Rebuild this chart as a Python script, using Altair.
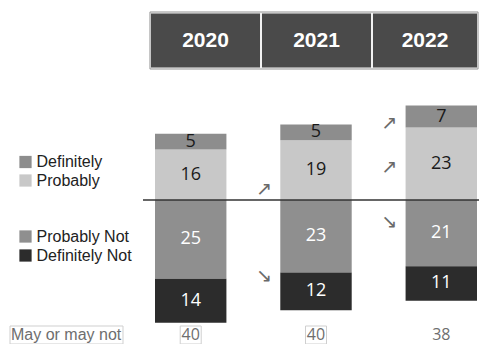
import altair as alt
import pandas as pd

# ---- data ----
years = ["2020", "2021", "2022"]
definitely = [5, 5, 7]
probably = [16, 19, 23]
probably_not = [25, 23, 21]
definitely_not = [14, 12, 11]
may_or_may_not = [40, 40, 38]

legend_labels = ["Definitely", "Probably", "Probably Not", "Definitely Not"]
bottom_label = "May or may not"

# trend arrows: (year, segment, glyph)
arrow_years = ["2021", "2021", "2022", "2022", "2022"]
arrow_segments = ["Probably", "Definitely Not", "Definitely", "Probably", "Probably Not"]
arrow_glyphs = ["↗", "↘", "↗", "↗", "↘"]

# ---- styling / layout ----
colors = {
    "Definitely": "#8d8d8d",
    "Probably": "#c8c8c8",
    "Probably Not": "#8f8f8f",
    "Definitely Not": "#2c2c2c",
}
text_colors = {
    "Definitely": "#1a1a1a",
    "Probably": "#1a1a1a",
    "Probably Not": "#ffffff",
    "Definitely Not": "#ffffff",
}
# where, within its segment, each arrow sits (0 = baseline side, 1 = far edge)
arrow_frac = [0.18, 0.1, 0.2, 0.46, 0.33]

W, H = 471, 336
PX_PER_UNIT = 3.15
ZERO_PX = 192
y_dom = [-(H - ZERO_PX) / PX_PER_UNIT, ZERO_PX / PX_PER_UNIT]

# ---- build stacked segments ----
rows = []
for i, yr in enumerate(years):
    rows.append(dict(year=yr, cat="Probably", v=probably[i], y0=0, y1=probably[i]))
    rows.append(dict(year=yr, cat="Definitely", v=definitely[i], y0=probably[i],
                     y1=probably[i] + definitely[i]))
    rows.append(dict(year=yr, cat="Probably Not", v=probably_not[i], y0=0, y1=-probably_not[i]))
    rows.append(dict(year=yr, cat="Definitely Not", v=definitely_not[i], y0=-probably_not[i],
                     y1=-probably_not[i] - definitely_not[i]))
seg = pd.DataFrame(rows)
seg["mid"] = (seg.y0 + seg.y1) / 2
seg["color"] = seg.cat.map(colors)
seg["tcolor"] = seg.cat.map(text_colors)

arr_rows = []
for yr, sg, g, f in zip(arrow_years, arrow_segments, arrow_glyphs, arrow_frac):
    r = seg[(seg.year == yr) & (seg.cat == sg)].iloc[0]
    arr_rows.append(dict(year=yr, glyph=g, ay=r.y0 + f * (r.y1 - r.y0)))
arr = pd.DataFrame(arr_rows)

bottom = pd.DataFrame({"year": years, "val": [str(v) for v in may_or_may_not]})

leg_y = [154, 172.5, 228.5, 247.5]
leg = pd.DataFrame({"label": legend_labels, "ly": leg_y,
                    "color": [colors[c] for c in legend_labels]})

x_bar = alt.X("year:N", scale=alt.Scale(domain=years, range=[147, 469],
                                         paddingInner=0.43, paddingOuter=0), axis=None)
y_sc = alt.Scale(domain=y_dom, range=[H, 0], nice=False, zero=False)

base = alt.Chart(seg)
bars = base.mark_rect().encode(
    x=x_bar,
    y=alt.Y("y0:Q", scale=y_sc, axis=None),
    y2="y1:Q",
    color=alt.Color("color:N", scale=None),
)
bar_text = base.mark_text(font="Open Sans", fontSize=18).encode(
    x=x_bar,
    y=alt.Y("mid:Q", scale=y_sc, axis=None),
    text=alt.Text("v:Q"),
    color=alt.Color("tcolor:N", scale=None),
)
baseline = alt.Chart(pd.DataFrame({"z": [0]})).mark_rule(color="#333333", strokeWidth=1.6).encode(
    y=alt.Y("z:Q", scale=y_sc, axis=None),
    x=alt.value(135),
    x2=alt.value(W),
)
arrows = alt.Chart(arr).mark_text(font="DejaVu Sans", fontSize=19, color="#6a6a6a", dx=-52).encode(
    x=x_bar,
    y=alt.Y("ay:Q", scale=y_sc, axis=None),
    text="glyph:N",
)

ROW_Y, BOX_Y0, BOX_Y1 = 327, 318, 336
bottom_box = alt.Chart(bottom[bottom.year != "2022"]).mark_bar(
    fill="white", stroke="#cfcfcf", strokeWidth=1, width=21).encode(
    x=x_bar, y=alt.value(BOX_Y0), y2=alt.value(BOX_Y1),
)
bottom_text = alt.Chart(bottom).mark_text(font="Open Sans", fontSize=16, color="#6e6e6e").encode(
    x=x_bar,
    y=alt.value(ROW_Y),
    text="val:N",
)

# header (three cells laid out left to right)
HDR_LEFT = 142
hdr_widths = [111, 111, 106]
hdr = pd.DataFrame({"year": years})
hdr["hx0"] = [HDR_LEFT + sum(hdr_widths[:i]) for i in range(len(years))]
hdr["hx1"] = hdr.hx0 + hdr_widths
hdr["hxc"] = (hdr.hx0 + hdr.hx1) / 2
hdr_cells = alt.Chart(hdr).mark_rect(fill="#4a4a4a", stroke="#f2f2f2", strokeWidth=2).encode(
    x=alt.X("hx0:Q", scale=None), x2="hx1:Q", y=alt.value(4.5), y2=alt.value(60.5),
)
hdr_border = alt.Chart(pd.DataFrame({"a": [0]})).mark_rect(
    fill=None, stroke="#9a9a9a", strokeWidth=1).encode(
    x=alt.value(HDR_LEFT), x2=alt.value(HDR_LEFT + sum(hdr_widths)),
    y=alt.value(4), y2=alt.value(61),
)
hdr_text = alt.Chart(hdr).mark_text(font="Liberation Sans", fontWeight="bold", fontSize=21,
                                    color="white").encode(
    x=alt.X("hxc:Q", scale=None), y=alt.value(33), text="year:N",
)

# legend
leg_sq = alt.Chart(leg).mark_square(size=150, opacity=1).encode(
    x=alt.value(17.5),
    y=alt.Y("ly:Q", scale=None),
    color=alt.Color("color:N", scale=None),
)
leg_txt = alt.Chart(leg).mark_text(font="Liberation Sans", fontSize=16, align="left",
                                   color="#222222").encode(
    x=alt.value(28.5),
    y=alt.Y("ly:Q", scale=None),
    text="label:N",
)
may_box = alt.Chart(pd.DataFrame({"t": [bottom_label]})).mark_rect(
    fill="white", stroke="#cfcfcf", strokeWidth=1).encode(
    x=alt.value(2), x2=alt.value(115), y=alt.value(BOX_Y0), y2=alt.value(BOX_Y1),
)
may_txt = alt.Chart(pd.DataFrame({"t": [bottom_label]})).mark_text(
    font="Liberation Sans", fontSize=16, align="left", color="#6e6e6e").encode(
    x=alt.value(3), y=alt.value(ROW_Y), text="t:N",
)

chart = alt.layer(
    hdr_cells, hdr_border, hdr_text,
    bars, bar_text, baseline, arrows,
    bottom_box, bottom_text,
    leg_sq, leg_txt, may_box, may_txt,
).properties(
    width=W, height=H, padding=0, autosize=alt.AutoSizeParams(type="none"),
).configure_view(stroke=None)

chart.save("out.html", embed_options={"renderer": "svg", "actions": False})
